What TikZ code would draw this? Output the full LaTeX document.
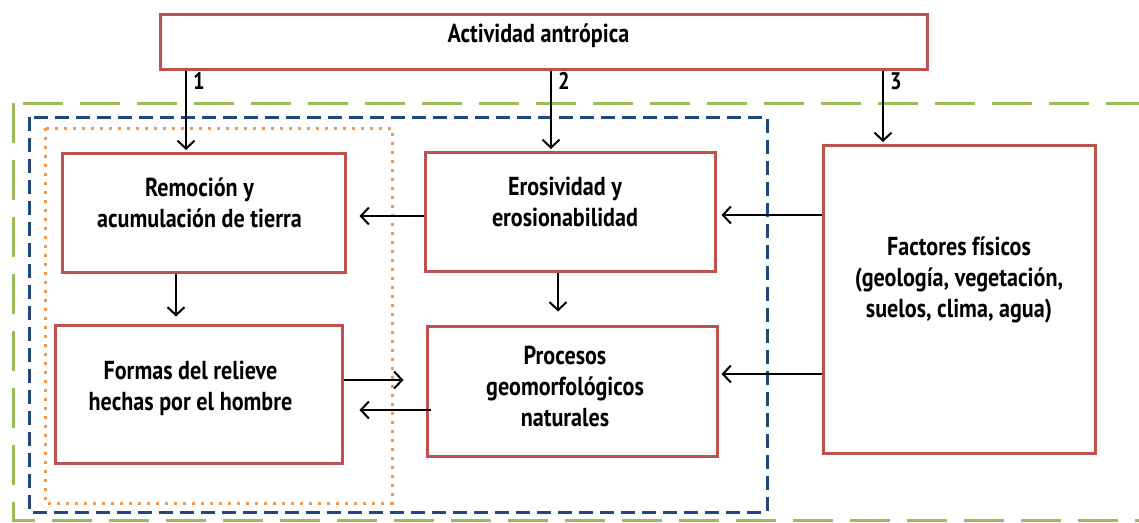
\documentclass[tikz,border=0pt]{standalone}
\usepackage{fontspec}
\setmainfont{PT Sans}[FakeStretch=0.85]
\usetikzlibrary{arrows.meta}

\definecolor{boxred}{RGB}{192,80,77}
\definecolor{zonegreen}{RGB}{155,187,89}
\definecolor{zoneblue}{RGB}{31,73,125}
\definecolor{zoneorange}{RGB}{247,150,70}

\tikzset{
  box/.style={draw=boxred, line width=3pt, fill=white, inner sep=0pt},
  boxtext/.style={font=\bfseries\fontsize{26}{31}\selectfont, align=center},
  arr/.style={-{Straight Barb[length=8pt,width=17pt]}, line width=2pt},
  num/.style={font=\bfseries\fontsize{24}{25}\selectfont, inner sep=1pt},
}

\begin{document}
\begin{tikzpicture}[x=1pt,y=-1pt]

  \clip (0,0) rectangle (1139,522);
  \fill[white] (0,0) rectangle (1139,522);

  % zonas
  \draw[zonegreen, line width=3pt, dash pattern=on 40pt off 17pt] (13,103) rectangle (1160,520);
  \draw[zoneblue, line width=3pt, dash pattern=on 14pt off 7pt] (29,117) rectangle (767,512);
  \draw[zoneorange, line width=3pt, dash pattern=on 3pt off 6pt] (45,128) rectangle (392,503);

  % cajas
  \node[box, minimum width=767pt, minimum height=55pt,
    label={[boxtext, xshift=-5pt, yshift=6pt]center:Actividad antrópica}] (act) at (543.5,41.5) {};
  \node[box, minimum width=283pt, minimum height=119pt,
    label={[boxtext, xshift=-4pt, yshift=10pt]center:Remoción y\\acumulación de tierra}] (rem) at (203.5,212.5) {};
  \node[box, minimum width=290pt, minimum height=119pt,
    label={[boxtext, xshift=-5pt, yshift=10pt]center:Erosividad y\\erosionabilidad}] (ero) at (570,211.5) {};
  \node[box, minimum width=287pt, minimum height=138pt,
    label={[boxtext, xshift=-8pt, yshift=6pt]center:Formas del relieve\\hechas por el hombre}] (for) at (198.5,394) {};
  \node[box, minimum width=290pt, minimum height=130pt,
    label={[boxtext, xshift=-7pt, yshift=5pt]center:Procesos\\geomorfológicos\\naturales}] (pro) at (572,391) {};
  \node[box, minimum width=272pt, minimum height=308pt,
    label={[boxtext, yshift=19pt]center:Factores físicos\\(geología, vegetación,\\suelos, clima, agua)}] (fac) at (959,299) {};

  % flechas
  \draw[arr, shorten >=1.5pt] ([xshift=-17.5pt]rem.north |- act.south)
  -- node[num, pos=0.13, right, xshift=5pt]{1} ([xshift=-17.5pt]rem.north);
  \draw[arr, shorten >=1.5pt] ([xshift=-19pt]ero.north |- act.south)
  -- node[num, pos=0.13, right, xshift=5pt]{2} ([xshift=-19pt]ero.north);
  \draw[arr, shorten >=1.5pt] ([xshift=-76pt]fac.north |- act.south)
  -- node[num, pos=0.145, right, xshift=5pt]{3} ([xshift=-76pt]fac.north);

  \draw[arr, shorten >=5pt] ([yshift=-3.5pt]ero.east -| fac.west) -- ([yshift=-3.5pt]ero.east);
  \draw[arr, shorten >=13pt] ([yshift=-4.5pt]ero.west) -- ([yshift=-4.5pt]ero.west -| rem.east);
  \draw[arr, shorten >=3pt] ([yshift=17pt]pro.east -| fac.west) -- ([yshift=17pt]pro.east);
  \draw[arr, shorten >=22pt] ([yshift=14pt]for.east) -- ([yshift=14pt]for.east -| pro.west);
  \draw[arr, shorten <=-5pt, shorten >=16pt] ([yshift=-19pt]pro.west) -- ([yshift=-19pt]pro.west -| for.east);
  \draw[arr, shorten >=7pt] ([xshift=-27.5pt]rem.south) -- ([xshift=-27.5pt]rem.south |- for.north);
  \draw[arr, shorten >=13pt] ([xshift=-12pt]ero.south) -- ([xshift=-12pt]ero.south |- pro.north);

\end{tikzpicture}
\end{document}
